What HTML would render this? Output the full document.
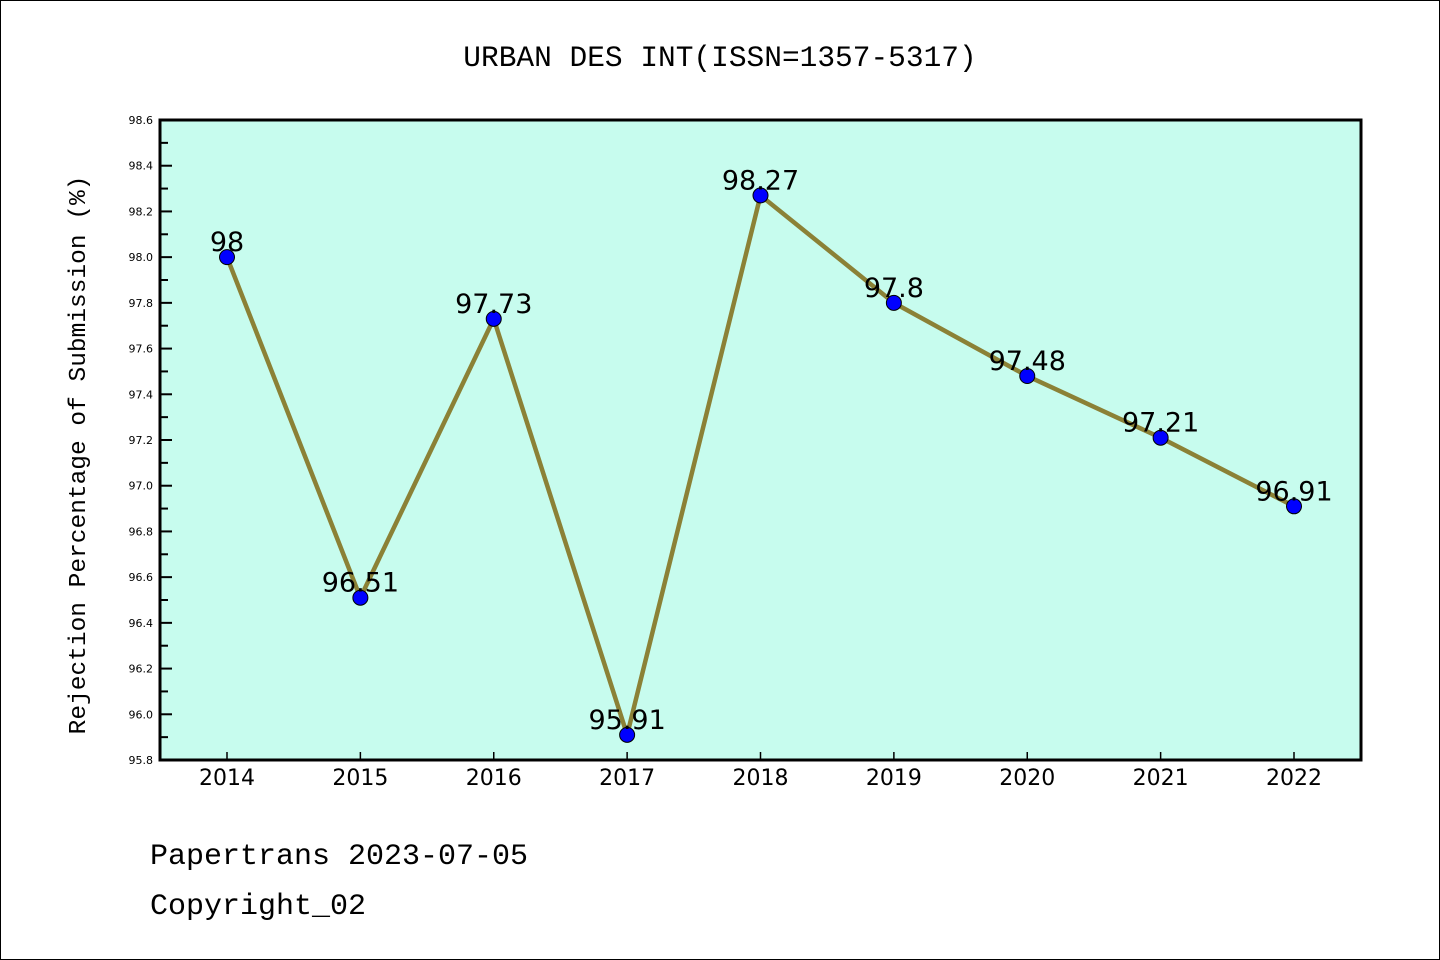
<!DOCTYPE html>
<html><head><meta charset="utf-8"><style>
html,body{margin:0;padding:0;background:#fff;}
svg{display:block;}
.mono{font-family:"Liberation Mono","DejaVu Sans Mono",monospace;}
.sans{font-family:"DejaVu Sans","Liberation Sans",sans-serif;}
</style></head><body>
<svg id="chart" width="1440" height="960" xmlns="http://www.w3.org/2000/svg">
<rect x="0.5" y="0.5" width="1439" height="959" fill="#fff" stroke="#000" stroke-width="1"/>
<text class="mono" x="720" y="66" font-size="29.5" text-anchor="middle">URBAN DES INT(ISSN=1357-5317)</text>
<rect x="160" y="120" width="1201" height="640" fill="#c7fcee"/>
<g id="ticks"></g>
<g id="series"></g>
<rect x="160" y="120" width="1201" height="640" fill="none" stroke="#000" stroke-width="3"/>
<text class="mono" transform="translate(85,455) rotate(-90)" font-size="24.5" text-anchor="middle">Rejection Percentage of Submission (%)</text>
<text class="mono" x="150" y="864" font-size="30">Papertrans 2023-07-05</text>
<text class="mono" x="150" y="914" font-size="30">Copyright_02</text>
</svg>
<script>
const years = [2014,2015,2016,2017,2018,2019,2020,2021,2022];
const values = [98,96.51,97.73,95.91,98.27,97.8,97.48,97.21,96.91];
const valueLabels = ["98","96.51","97.73","95.91","98.27","97.8","97.48","97.21","96.91"];
const yTicks = [95.8,96.0,96.2,96.4,96.6,96.8,97.0,97.2,97.4,97.6,97.8,98.0,98.2,98.4,98.6];
const yMin = 95.8, yMax = 98.6;
const NS = "http://www.w3.org/2000/svg";
function xPos(i){ return 227 + i*(1294-227)/(years.length-1); }
function yPos(v){ return 760 - (v-yMin)/(yMax-yMin)*640; }
function mk(tag, attrs, parent){ const e=document.createElementNS(NS,tag); for(const k in attrs) e.setAttribute(k,attrs[k]); parent.appendChild(e); return e; }
const tg = document.getElementById('ticks');
yTicks.forEach((t,i)=>{
  const y = yPos(t);
  const ln = mk('line',{x1:160,x2:172,y1:y,y2:y,stroke:'#000','stroke-width':2},tg);
  
  
  const lb = mk('text',{x:153,y:y+4,'font-size':11,'text-anchor':'end','class':'sans'},tg);
  lb.textContent = t.toFixed(1);
  
  
  if(i<yTicks.length-1){
    const ym = yPos(t+0.1);
    const mn = mk('line',{x1:160,x2:168,y1:ym,y2:ym,stroke:'#000','stroke-width':2},tg);
    
    
  }
});
years.forEach((yr,i)=>{
  const x = xPos(i);
  const ln = mk('line',{x1:x,x2:x,y1:760,y2:752,stroke:'#000','stroke-width':1.5},tg);
  
  
  const lb = mk('text',{x:x,y:785,'font-size':22,'text-anchor':'middle','class':'sans'},tg);
  lb.textContent = yr;
  
  
});
const sg = document.getElementById('series');
const pts = values.map((v,i)=>xPos(i)+','+yPos(v)).join(' ');
const pl = mk('polyline',{points:pts,fill:'none',stroke:'#8b8136','stroke-width':4.5,'stroke-linejoin':'round'},sg);


values.forEach((v,i)=>{
  const c = mk('circle',{cx:xPos(i),cy:yPos(v),r:7.5,fill:'#0000ff',stroke:'#000','stroke-width':1},sg);
  
  
  const t = mk('text',{x:xPos(i),y:yPos(v)-6,'font-size':27,'text-anchor':'middle','class':'sans'},sg);
  t.textContent = valueLabels[i];
  
  
});
</script>
</body></html>
